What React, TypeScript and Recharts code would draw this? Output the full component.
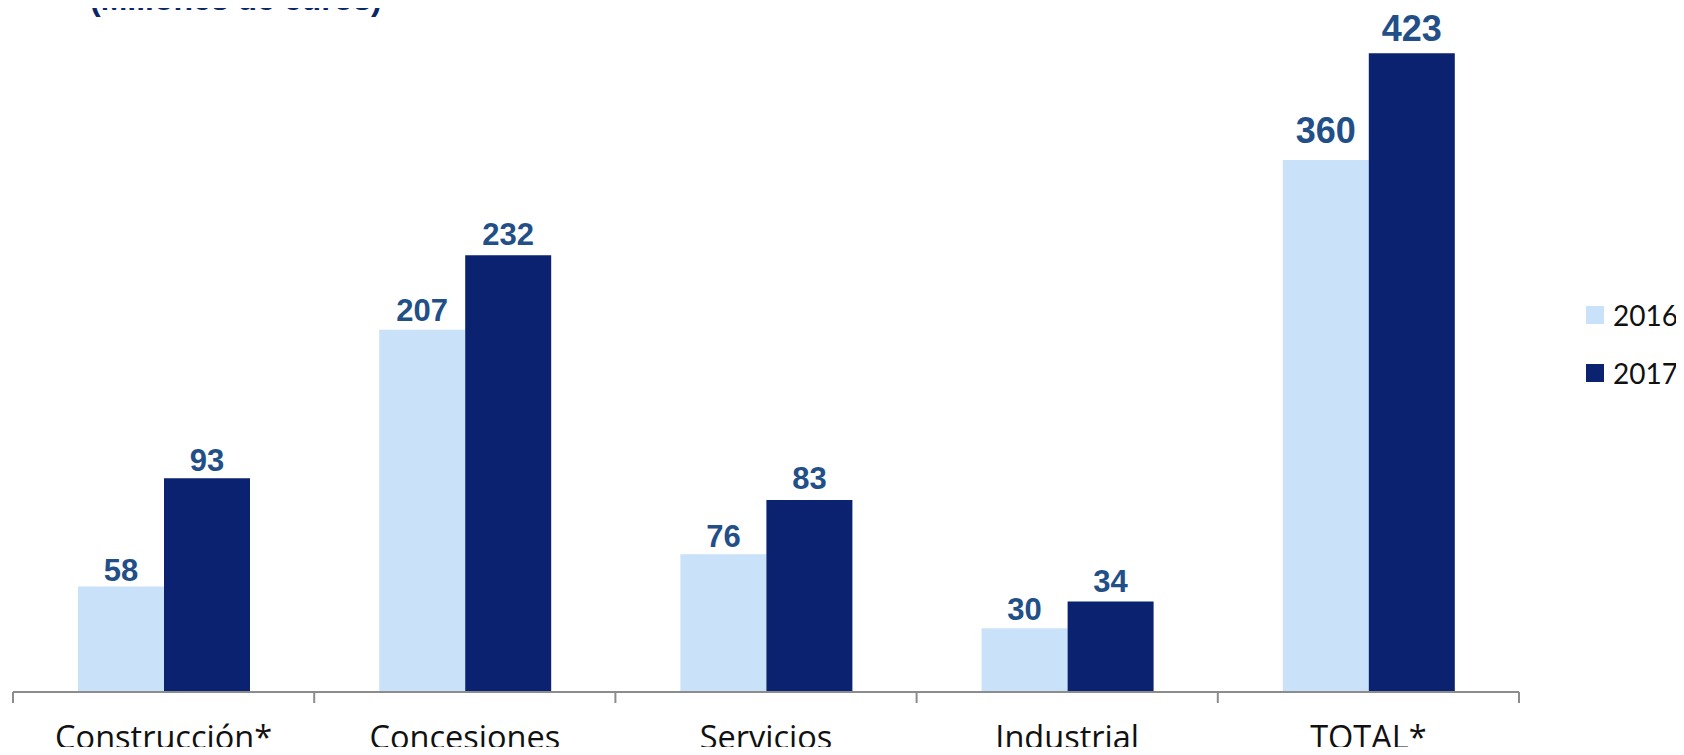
import React from "react";
import { BarChart, Bar, XAxis, YAxis, Legend, LabelList } from "recharts";

const categories = ["Construcción*", "Concesiones", "Servicios", "Industrial", "TOTAL*"];
// Printed values (data labels)
const labels2016 = ["58", "207", "76", "30", "360"];
const labels2017 = ["93", "232", "83", "34", "423"];
// Bar heights as drawn in the reference (the original chart is not drawn to scale)
const height2016 = [70.2, 240.8, 91.6, 42.3, 353.7];
const height2017 = [142.1, 290.3, 127.6, 60.2, 424.6];
const seriesNames = ["2016", "2017"];

const data = categories.map((c, i) => ({
  name: c,
  h2016: height2016[i],
  h2017: height2017[i],
}));

const W = 1684;
const H = 755;
const M = { top: 0, right: 165, bottom: 0, left: 13 };
const BAND = (W - M.left - M.right) / categories.length;
const AXIS_Y = 692;

const LIGHT = "#C9E2F9";
const DARK = "#0A2270";
const LABEL_COLOR = "#224F88";
const AXIS_COLOR = "#8C8C8C";

const makeLabel = (labels: string[], gaps: number[]) => (props: any) => {
  const { x, y, width, index } = props;
  const big = index === categories.length - 1;
  return (
    <text
      x={Number(x) + Number(width) / 2}
      y={Number(y) - gaps[index]}
      textAnchor="middle"
      fontFamily="'Liberation Sans', Arial, sans-serif"
      fontWeight="bold"
      fontSize={big ? 36 : 31}
      fill={LABEL_COLOR}
    >
      {labels[index]}
    </text>
  );
};

const Tick = (props: any) => {
  const { x, index, payload } = props;
  const left = x - BAND / 2;
  const right = x + BAND / 2;
  return (
    <g>
      <line x1={left} x2={left} y1={AXIS_Y} y2={AXIS_Y + 11} stroke={AXIS_COLOR} strokeWidth={2} />
      {index === categories.length - 1 && (
        <line x1={right} x2={right} y1={AXIS_Y} y2={AXIS_Y + 11} stroke={AXIS_COLOR} strokeWidth={2} />
      )}
      <text
        x={x}
        y={749}
        textAnchor="middle"
        fontFamily="'Open Sans', Lato, sans-serif"
        fontSize={32.5}
        fill="#111111"
      >
        {payload.value}
      </text>
    </g>
  );
};

const LegendContent = () => {
  const colors = [LIGHT, DARK];
  return (
    <div style={{ position: "relative", width: 98, height: 100 }}>
      {seriesNames.map((n, i) => (
        <div
          key={n}
          style={{
            position: "absolute",
            left: 0,
            top: i * 57.5,
            height: 36,
            display: "flex",
            alignItems: "center",
            whiteSpace: "nowrap",
          }}
        >
          <span
            style={{
              display: "inline-block",
              width: 18,
              height: 18,
              background: colors[i],
              marginRight: 9,
            }}
          />
          <span
            style={{
              fontFamily: "Lato, 'Open Sans', sans-serif",
              fontSize: 28,
              color: "#111111",
            }}
          >
            {n}
          </span>
        </div>
      ))}
    </div>
  );
};

export default function App() {
  return (
    <div style={{ margin: -8, width: W, height: H, background: "#ffffff", position: "relative" }}>
      <BarChart width={W} height={H} data={data} margin={M} barSize={86} barGap={0}>
        <text
          x={90}
          y={10}
          fontFamily="'Liberation Sans', Arial, sans-serif"
          fontWeight="bold"
          fontSize={32}
          fill="#0B2769"
        >
          (Millones de euros)
        </text>
        <XAxis
          dataKey="name"
          height={63}
          axisLine={{ stroke: AXIS_COLOR, strokeWidth: 2 }}
          tickLine={false}
          tick={<Tick />}
          interval={0}
        />
        <YAxis hide domain={[0, 460]} />
        <Legend
          layout="vertical"
          align="center"
          verticalAlign="middle"
          wrapperStyle={{ left: 1586, top: 297, width: 98 }}
          content={<LegendContent />}
        />
        <Bar dataKey="h2016" name={seriesNames[0]} fill={LIGHT} isAnimationActive={false}>
          <LabelList dataKey="h2016" content={makeLabel(labels2016, [5, 9, 7, 8, 17])} />
        </Bar>
        <Bar dataKey="h2017" name={seriesNames[1]} fill={DARK} isAnimationActive={false}>
          <LabelList dataKey="h2017" content={makeLabel(labels2017, [7, 10, 11, 9, 12])} />
        </Bar>
      </BarChart>
    </div>
  );
}
